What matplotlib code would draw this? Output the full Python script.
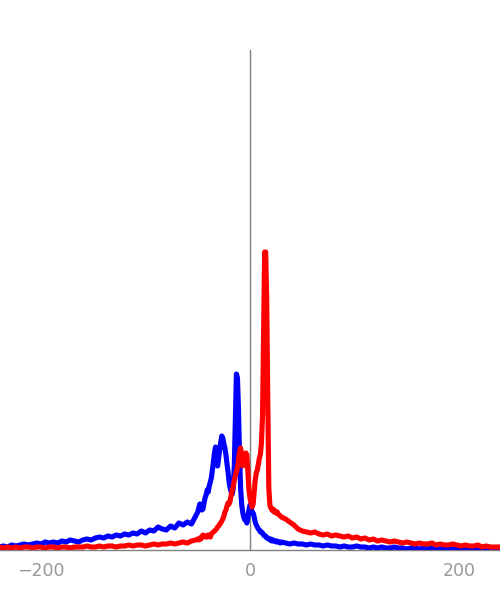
import numpy as np
import matplotlib
matplotlib.use("Agg")
import matplotlib.pyplot as plt

# ---- data (x in units, y in arbitrary counts) ----
x_left = list(range(-240, -51, 4))      # 48 points
x_center = list(range(-50, 31, 1))      # 81 points
x_right = list(range(34, 239, 4))       # 52 points

blue_left = [3, 4, 3, 5, 4, 5, 6, 5, 6, 7,
             6, 8, 7, 8, 7, 9, 8, 10, 9, 8,
             10, 11, 10, 12, 13, 12, 14, 13, 15, 14,
             16, 15, 17, 16, 19, 17, 20, 19, 23, 21,
             20, 24, 22, 27, 25, 28, 26, 34]
blue_center = [38, 42, 46, 43, 40, 41, 47, 52, 55, 60,
               58, 64, 68, 72, 80, 88, 97, 103, 95, 84,
               92, 100, 108, 114, 112, 106, 102, 95, 86, 78,
               68, 62, 58, 56, 62, 85, 130, 176, 172, 140,
               95, 62, 46, 38, 33, 30, 31, 27, 33, 40,
               45, 42, 38, 37, 33, 28, 25, 23, 21, 20,
               18, 18, 17, 15, 14, 14, 12, 12, 11, 10,
               11, 9, 10, 9, 9, 8, 9, 8, 8, 7, 8]
blue_right = [7, 6, 7, 6, 6, 5, 6, 5, 5, 4,
              5, 4, 4, 3, 4, 3, 3, 4, 3, 3,
              2, 3, 2, 3, 2, 2, 3, 2, 2, 1,
              2, 2, 1, 2, 1, 2, 1, 1, 2, 1,
              1, 0.5, 1, 1, 0.5, 1, 0.5, 1, 0.5, 1,
              0.5, 1]

red_left = [3, 2, 3, 2, 3, 2, 3, 3, 2, 3,
            3, 2, 3, 3, 2, 3, 3, 2, 3, 3,
            3, 4, 3, 3, 4, 3, 4, 4, 3, 4,
            4, 5, 4, 5, 5, 4, 5, 6, 5, 6,
            6, 7, 6, 7, 8, 7, 9, 10]
red_center = [11, 10, 12, 11, 13, 15, 14, 13, 14, 13,
              15, 14, 13, 16, 17, 18, 19, 20, 21, 23,
              24, 26, 27, 29, 31, 34, 38, 40, 44, 47,
              46, 49, 55, 60, 64, 70, 74, 78, 82, 90,
              98, 102, 95, 84, 86, 92, 97, 95, 78, 60,
              52, 47, 43, 46, 58, 70, 77, 80, 86, 92,
              96, 108, 135, 220, 298, 298, 250, 150, 62, 45,
              42, 40, 41, 38, 39, 37, 38, 36, 35, 34, 33]
red_right = [31, 28, 25, 21, 19, 18, 17, 18, 16, 15,
             16, 14, 15, 14, 13, 14, 12, 13, 11, 12,
             10, 11, 9, 10, 9, 8, 9, 8, 7, 8,
             7, 6, 7, 6, 6, 7, 5, 6, 5, 5,
             6, 5, 4, 5, 4, 4, 5, 3, 4, 3,
             3, 3]

x_ticks = [-200, 0, 200]
x_ticklabels = ["\u2212200", "0", "200"]

x_all = np.array(x_left + x_center + x_right, dtype=float)
blue = np.array(blue_left + blue_center + blue_right, dtype=float)
red = np.array(red_left + red_center + red_right, dtype=float)

# ---- figure ----
fig = plt.figure(figsize=(5, 6), dpi=100)
ax = fig.add_axes([0, 1 - 550 / 600, 1, 500 / 600])

lw = 3.7
ax.plot(x_all, blue, color="#0000ff", lw=lw, solid_joinstyle="round", zorder=3)
ax.plot(x_all, red, color="#ff0000", lw=lw, solid_joinstyle="round", zorder=4)

ax.set_xlim(-239.2, 239.2)
ax.set_ylim(0, 500)

gray = "#808080"
for s in ["top", "right"]:
    ax.spines[s].set_visible(False)
ax.spines["bottom"].set_position(("data", 0))
ax.spines["left"].set_position(("data", 0))
for s in ["bottom", "left"]:
    ax.spines[s].set_color(gray)
    ax.spines[s].set_linewidth(1.0)
    ax.spines[s].set_zorder(2)

ax.set_yticks([])
ax.set_xticks(x_ticks)
ax.set_xticklabels(x_ticklabels)
ax.tick_params(axis="x", which="major", direction="in", length=4, width=0.8,
               color=gray, labelcolor="#999999", labelsize=12.5, pad=9)
ax.patch.set_alpha(0)

fig.savefig("out.png", dpi=100)
